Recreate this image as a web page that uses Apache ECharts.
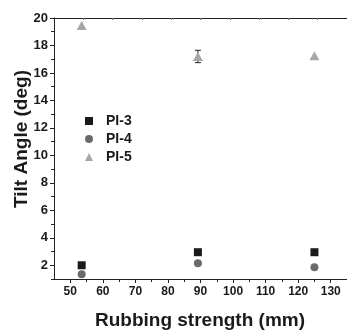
<!DOCTYPE html>
<html>
<head>
<meta charset="utf-8">
<script src="https://cdn.jsdelivr.net/npm/echarts@6/dist/echarts.min.js"></script>
<style>
html,body{margin:0;padding:0;background:#fff;}
#c{width:347px;height:331px;}
</style>
</head>
<body>
<div id="c"></div>
<script>
// Data
const seriesNames = ['PI-3', 'PI-4', 'PI-5'];
const rubbing = [53.5, 89.2, 125];
const pi3 = [2.0, 2.95, 2.95];
const pi4 = [1.35, 2.15, 1.85];
const pi5 = [19.45, 17.2, 17.25];
const pi5ErrLow = [null, 16.75, null];
const pi5ErrHigh = [null, 17.65, null];
const xTickLabels = [50, 60, 70, 80, 90, 100, 110, 120, 130];
const xMinorTicks = [55, 65, 75, 85, 95, 105, 115, 125, 135];
const yTickLabels = [2, 4, 6, 8, 10, 12, 14, 16, 18, 20];
const yMinorTicks = [1, 3, 5, 7, 9, 11, 13, 15, 17, 19];
const topTicks = [1, 2, 3, 4, 5, 6, 7, 8, 9];

const chart = echarts.init(document.getElementById('c'));
const font = 'Liberation Sans, Arial, Helvetica, sans-serif';
const axisColor = '#222';
const colors = ['#1a1a1a', '#6a6a6a', '#a6a6a6'];

const pairs = (ys) => rubbing.map((x, i) => [x, ys[i]]);
const errData = rubbing.map((x, i) => [x, pi5ErrLow[i], pi5ErrHigh[i]]).filter(d => d[1] != null);

chart.setOption({
  animation: false,
  backgroundColor: '#fff',
  grid: [{ left: 54, right: 0, top: 18, bottom: 52, containLabel: false }],
  legend: {
    orient: 'vertical',
    left: 80,
    top: 109,
    itemWidth: 8,
    itemHeight: 8,
    itemGap: 4,
    textStyle: { fontFamily: font, fontWeight: 'bold', fontSize: 14, color: '#1a1a1a', padding: [0, 0, 0, 8] },
    data: [
      { name: seriesNames[0], icon: 'rect' },
      { name: seriesNames[1], icon: 'circle' },
      { name: seriesNames[2], icon: 'triangle' }
    ]
  },
  xAxis: [
    {
      type: 'value', min: 45, max: 135, position: 'bottom',
      axisLine: { show: true, onZero: false, lineStyle: { color: axisColor, width: 1 } },
      axisTick: { show: true, inside: false, length: 4, customValues: xTickLabels, lineStyle: { color: axisColor } },
      axisLabel: { customValues: xTickLabels, margin: 7, fontFamily: font, fontWeight: 'bold', fontSize: 12, color: '#1a1a1a' },
      splitLine: { show: false }
    },
    {
      type: 'value', min: 45, max: 135, position: 'bottom',
      axisLine: { show: false },
      axisTick: { show: true, inside: false, length: 3, customValues: xMinorTicks, lineStyle: { color: axisColor } },
      axisLabel: { show: false },
      splitLine: { show: false }
    },
    {
      type: 'value', min: 0, max: 10, position: 'top',
      axisLine: { show: true, onZero: false, lineStyle: { color: axisColor, width: 1 } },
      axisTick: { show: true, inside: true, length: 2, customValues: topTicks, lineStyle: { color: '#777' } },
      axisLabel: { show: false },
      splitLine: { show: false }
    }
  ],
  yAxis: [
    {
      type: 'value', min: 1, max: 20, position: 'left',
      axisLine: { show: true, onZero: false, lineStyle: { color: axisColor, width: 1 } },
      axisTick: { show: true, inside: false, length: 4, customValues: yTickLabels, lineStyle: { color: axisColor } },
      axisLabel: { customValues: yTickLabels, margin: 6, fontFamily: font, fontWeight: 'bold', fontSize: 13, color: '#1a1a1a' },
      splitLine: { show: false }
    },
    {
      type: 'value', min: 1, max: 20, position: 'left',
      axisLine: { show: false },
      axisTick: { show: true, inside: false, length: 3, customValues: yMinorTicks, lineStyle: { color: axisColor } },
      axisLabel: { show: false },
      splitLine: { show: false }
    }
  ],
  graphic: [
    {
      type: 'text', x: 22, y: 139, rotation: Math.PI / 2,
      style: { text: 'Tilt Angle (deg)', font: 'bold 19px ' + font, fill: '#1a1a1a', textAlign: 'center', textVerticalAlign: 'middle' }
    },
    {
      type: 'text', x: 200, y: 321,
      style: { text: 'Rubbing strength (mm)', font: 'bold 19px ' + font, fill: '#1a1a1a', textAlign: 'center', textVerticalAlign: 'middle' }
    }
  ],
  series: [
    {
      name: 'PI-5 error', type: 'custom', xAxisIndex: 0, yAxisIndex: 0, silent: true, z: 1,
      data: errData,
      renderItem: function (params, api) {
        const x = api.value(0);
        const lo = api.coord([x, api.value(1)]);
        const hi = api.coord([x, api.value(2)]);
        const w = 3;
        return {
          type: 'group',
          children: [
            { type: 'line', shape: { x1: lo[0], y1: lo[1], x2: hi[0], y2: hi[1] }, style: { stroke: '#222', lineWidth: 1 } },
            { type: 'line', shape: { x1: hi[0] - w, y1: hi[1], x2: hi[0] + w, y2: hi[1] }, style: { stroke: '#222', lineWidth: 1 } },
            { type: 'line', shape: { x1: lo[0] - w, y1: lo[1], x2: lo[0] + w, y2: lo[1] }, style: { stroke: '#222', lineWidth: 1 } }
          ]
        };
      }
    },
    { name: seriesNames[0], type: 'scatter', symbol: 'rect', symbolSize: 8, itemStyle: { color: colors[0], opacity: 1 }, data: pairs(pi3), z: 3 },
    { name: seriesNames[1], type: 'scatter', symbol: 'circle', symbolSize: 8, itemStyle: { color: colors[1], opacity: 1 }, data: pairs(pi4), z: 3 },
    { name: seriesNames[2], type: 'scatter', symbol: 'triangle', symbolSize: [10, 9], itemStyle: { color: colors[2], opacity: 1 }, data: pairs(pi5), z: 3 }
  ]
});
</script>
</body>
</html>
